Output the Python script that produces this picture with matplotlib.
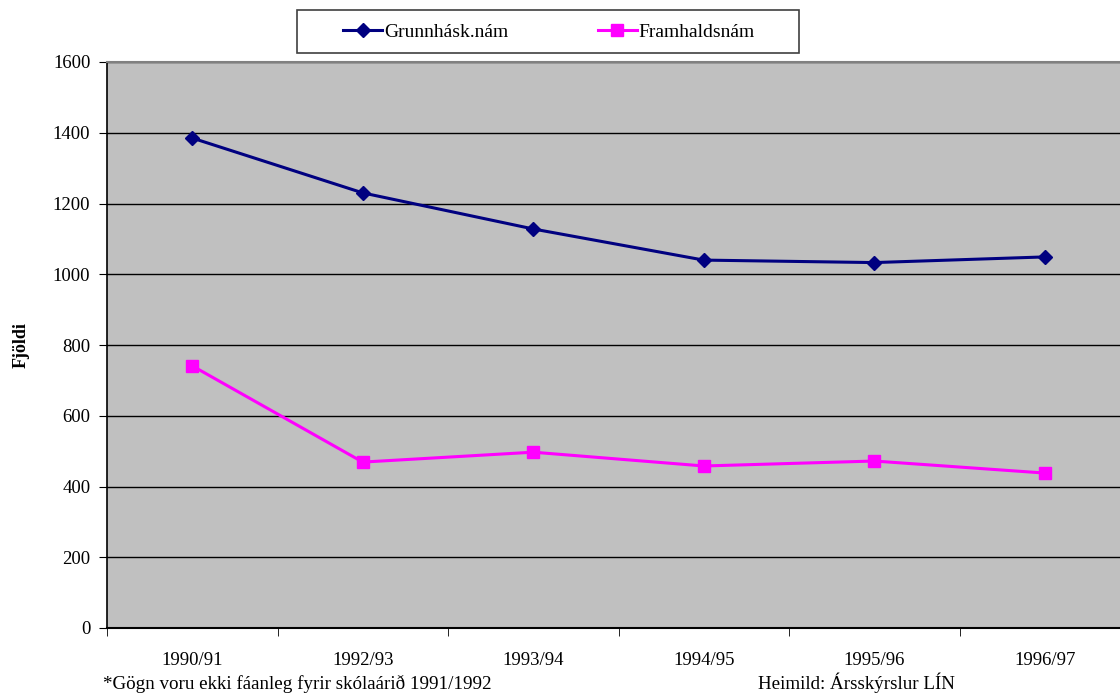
import matplotlib
matplotlib.use('Agg')
import matplotlib.pyplot as plt
from matplotlib.patches import Rectangle

plt.rcParams['font.family'] = ['Liberation Serif', 'DejaVu Serif']

years = ['1990/91', '1992/93', '1993/94', '1994/95', '1995/96', '1996/97']
grunn = [1385, 1230, 1128, 1040, 1033, 1049]
framh = [741, 469, 497, 458, 472, 438]
yticks = [0, 200, 400, 600, 800, 1000, 1200, 1400, 1600]

W, H = 1120, 697
fig = plt.figure(figsize=(W / 100, H / 100), dpi=100)
ax = fig.add_axes([107 / W, 69 / H, 1023 / W, 566 / H])
ax.set_facecolor('#C0C0C0')

x = list(range(len(years)))
ax.plot(x, grunn, color='#000080', linewidth=2.2, marker='D', markersize=7,
        label='Grunnhásk.nám', zorder=3)
ax.plot(x, framh, color='#FF00FF', linewidth=2.2, marker='s', markersize=8,
        label='Framhaldsnám', zorder=3)

ax.set_xlim(-0.5, 5.5)
ax.set_ylim(0, 1600)
ax.set_yticks(yticks)
ax.set_yticklabels([str(v) for v in yticks], fontsize=13.5)
ax.set_xticks(x)
ax.set_xticklabels(years, fontsize=13.5)
ax.tick_params(axis='x', length=0, pad=17)
ax.set_xticks([i - 0.5 for i in range(len(years))], minor=True)
ax.tick_params(axis='x', which='minor', length=6, direction='out', color='black')
ax.tick_params(axis='y', length=6, direction='out', pad=6)
ax.grid(axis='y', color='black', linewidth=1)
ax.set_axisbelow(True)

ax.spines['top'].set_color('#808080')
ax.spines['top'].set_linewidth(1.5)
ax.spines['right'].set_visible(False)
ax.spines['left'].set_linewidth(1.2)
ax.spines['bottom'].set_linewidth(1.5)

ax.set_ylabel('Fjöldi', fontsize=13, fontweight='bold')
ax.yaxis.set_label_coords((30 - 107) / 1023, 0.5)

# legend box
fig.patches.append(Rectangle((297 / W, 1 - 53 / H), 502 / W, 43 / H,
                             transform=fig.transFigure, facecolor='white',
                             edgecolor='#404040', linewidth=1.2))
fig.legend(loc='center', bbox_to_anchor=(549 / W, 1 - 32 / H),
           ncol=2, fontsize=14, frameon=False,
           handlelength=2.0, columnspacing=4.6,
           borderpad=0.2, handletextpad=0.1)

fig.text(103 / W, 1 - 689 / H, '*Gögn voru ekki fáanleg fyrir skólaárið 1991/1992',
         fontsize=13.7, ha='left', va='baseline')
fig.text(758 / W, 1 - 689 / H, 'Heimild: Ársskýrslur LÍN',
         fontsize=13.7, ha='left', va='baseline')

fig.savefig('out.png', dpi=100)
